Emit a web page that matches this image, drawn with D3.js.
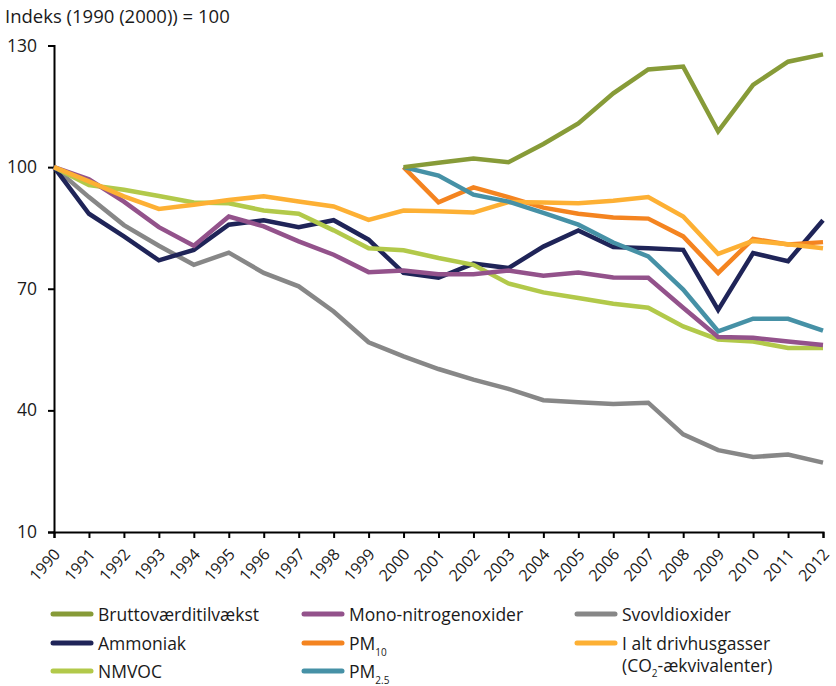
<!DOCTYPE html>
<html lang="da">
<head>
<meta charset="utf-8">
<title>Indeks</title>
<script src="https://d3js.org/d3.v7.min.js"></script>
<style>
  body { margin: 0; background: #fff; }
  svg text { font-family: "Open Sans", "Noto Sans", sans-serif; fill: #1a1a1a; }
</style>
</head>
<body>
<svg id="chart" width="836" height="686"></svg>
<script>
// years on the x axis
const years = d3.range(1990, 2013);
const yTicks = [10, 40, 70, 100, 130];

// series values (index, 1990 = 100 or 2000 = 100)
const brutto = [null,null,null,null,null,null,null,null,null,null,
  100, 101.1, 102.1, 101.2, 105.7, 110.8, 118.2, 124.1, 124.8, 108.8, 120.3, 126.0, 127.8];
const mono = [100, 97.0, 91.5, 85.2, 80.6, 87.8, 85.4, 81.7, 78.4, 74.1,
  74.5, 73.6, 73.6, 74.5, 73.2, 74.0, 72.8, 72.7, 65.3, 58.1, 57.9, 57.0, 56.1];
const svovl = [100, 92.6, 85.7, 80.6, 75.9, 78.9, 73.9, 70.6, 64.4, 56.8,
  53.3, 50.2, 47.6, 45.3, 42.5, 42.0, 41.6, 41.9, 34.1, 30.2, 28.5, 29.1, 27.1];
const ammoniak = [100, 88.5, 82.9, 77.0, 79.6, 85.8, 86.9, 85.2, 86.9, 82.1,
  73.9, 72.7, 76.2, 75.1, 80.4, 84.4, 80.3, 80.0, 79.6, 64.8, 78.8, 76.8, 86.9];
const pm10 = [null,null,null,null,null,null,null,null,null,null,
  100, 91.3, 95.0, 92.6, 90.0, 88.5, 87.6, 87.3, 82.9, 73.9, 82.3, 80.9, 81.5];
const drivhus = [100, 96.5, 92.8, 89.7, 90.7, 91.9, 92.8, 91.5, 90.3, 87.0,
  89.3, 89.1, 88.8, 91.4, 91.3, 91.1, 91.7, 92.6, 87.8, 78.6, 81.8, 81.0, 80.0];
const nmvoc = [100, 95.6, 94.4, 92.9, 91.3, 91.1, 89.3, 88.5, 84.4, 80.0,
  79.5, 77.6, 75.9, 71.3, 69.1, 67.7, 66.3, 65.3, 60.7, 57.5, 57.0, 55.4, 55.4];
const pm25 = [null,null,null,null,null,null,null,null,null,null,
  100, 97.9, 93.2, 91.5, 88.7, 85.8, 81.4, 78.0, 69.8, 59.5, 62.6, 62.6, 59.7];

const series = [
  { key: "svovl", values: svovl, color: "#878787" },
  { key: "ammoniak", values: ammoniak, color: "#1f2458" },
  { key: "nmvoc", values: nmvoc, color: "#b2c94a" },
  { key: "mono", values: mono, color: "#93528b" },
  { key: "pm10", values: pm10, color: "#f48420" },
  { key: "drivhus", values: drivhus, color: "#fdb034" },
  { key: "pm25", values: pm25, color: "#4691a6" },
  { key: "brutto", values: brutto, color: "#879b38" }
];

// legend, row by row
const legend = [
  { label: ["Bruttoværditilvækst"], color: "#879b38", col: 0, row: 0 },
  { label: ["Mono-nitrogenoxider"], color: "#93528b", col: 1, row: 0 },
  { label: ["Svovldioxider"], color: "#878787", col: 2, row: 0 },
  { label: ["Ammoniak"], color: "#1f2458", col: 0, row: 1 },
  { label: ["PM", "10"], color: "#f48420", col: 1, row: 1 },
  { label: ["I alt drivhusgasser"], color: "#fdb034", col: 2, row: 1 },
  { label: ["NMVOC"], color: "#b2c94a", col: 0, row: 2 },
  { label: ["PM", "2.5"], color: "#4691a6", col: 1, row: 2 }
];

const svg = d3.select("#chart");
const plotLeft = 54, plotRight = 823, plotTop = 45.5, plotBottom = 532;

const x = d3.scaleLinear().domain([1990, 2012]).range([plotLeft, plotRight]);
const y = d3.scaleLinear().domain([10, 130]).range([plotBottom, plotTop]);

// title
svg.append("text")
  .attr("x", 5).attr("y", 23)
  .style("font-size", "18.5px")
  .text("Indeks (1990 (2000)) = 100");

// y axis
const yAxis = svg.append("g")
  .attr("transform", `translate(${plotLeft},0)`)
  .call(d3.axisLeft(y).tickValues(yTicks).tickSize(6).tickPadding(11));
yAxis.selectAll("text").style("font-size", "17.5px").attr("fill", "#1a1a1a");

// x axis
const xAxis = svg.append("g")
  .attr("transform", `translate(0,${plotBottom})`)
  .call(d3.axisBottom(x).tickValues(years).tickFormat(d3.format("d")).tickSize(6));
xAxis.selectAll("text")
  .style("font-size", "16px")
  .attr("fill", "#1a1a1a")
  .attr("text-anchor", "end")
  .attr("dx", 0).attr("dy", 0)
  .attr("transform", "translate(0,17) rotate(-48)");

svg.selectAll(".domain, .tick line").attr("stroke", "#000").attr("stroke-width", 2);

// lines
const line = d3.line()
  .defined(d => d.v != null)
  .x(d => x(d.year))
  .y(d => y(d.v));

svg.append("g").selectAll("path")
  .data(series)
  .join("path")
  .attr("fill", "none")
  .attr("stroke", d => d.color)
  .attr("stroke-width", 4.5)
  .attr("stroke-linejoin", "miter")
  .attr("d", d => line(years.map((yr, i) => ({ year: yr, v: d.values[i] }))));

// legend
const colX = [53, 304, 577];
const rowY = [614, 643, 671];
const lg = svg.append("g");
legend.forEach(item => {
  const gx = colX[item.col], gy = rowY[item.row];
  lg.append("line")
    .attr("x1", gx).attr("x2", gx + 38)
    .attr("y1", gy).attr("y2", gy)
    .attr("stroke", item.color).attr("stroke-width", 5)
    .attr("stroke-linecap", "round");
  const t = lg.append("text")
    .attr("x", gx + 45).attr("y", gy + 7)
    .style("font-size", "17.5px");
  t.append("tspan").text(item.label[0]);
  if (item.label[1]) {
    t.append("tspan").attr("dy", 6).style("font-size", "10px").text(item.label[1]);
  }
});

// drivhusgasser second line with CO2 subscript
const t2 = lg.append("text")
  .attr("x", colX[2] + 45).attr("y", 672)
  .style("font-size", "17.5px");
t2.append("tspan").text("(CO");
t2.append("tspan").attr("dy", 5).style("font-size", "10px").text("2");
t2.append("tspan").attr("dy", -5).text("-ækvivalenter)");
</script>
</body>
</html>
